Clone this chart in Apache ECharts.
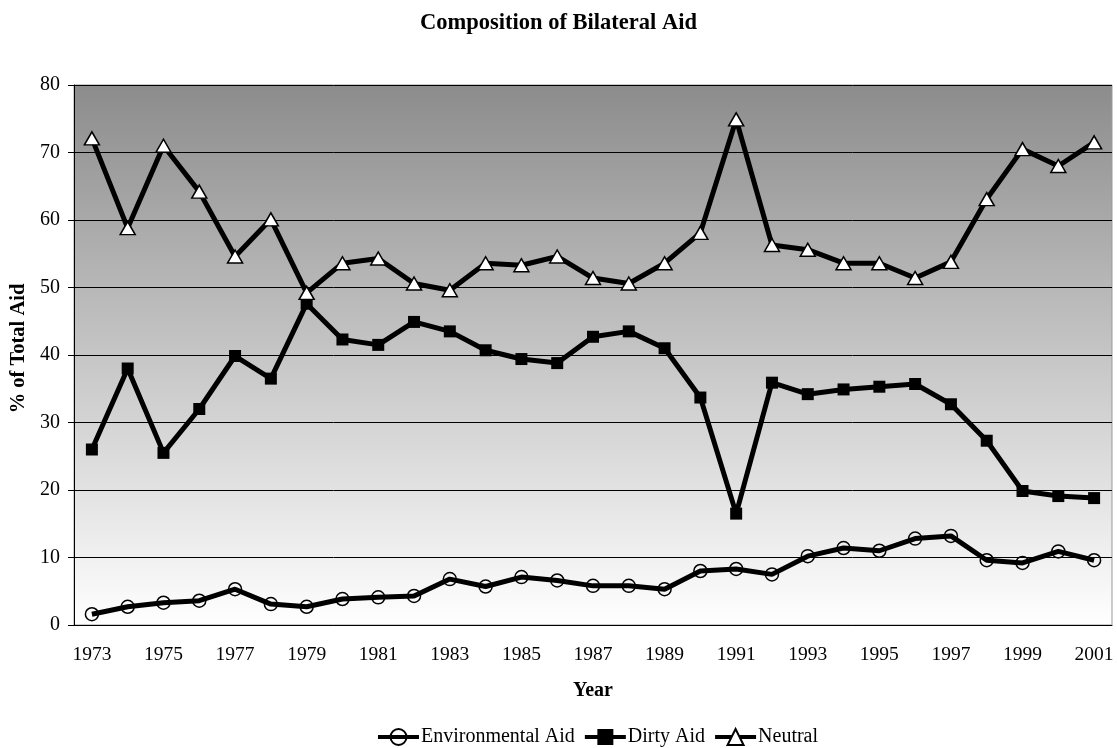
<!DOCTYPE html>
<html>
<head>
<meta charset="UTF-8">
<title>Composition of Bilateral Aid</title>
<script src="https://cdn.jsdelivr.net/npm/echarts@6/dist/echarts.min.js"></script>
<style>
html,body{margin:0;padding:0;background:#fff}
#main{width:1117px;height:748px}
</style>
</head>
<body>
<div id="main"></div>
<script>
// data
var years = ['1973','1974','1975','1976','1977','1978','1979','1980','1981','1982',
  '1983','1984','1985','1986','1987','1988','1989','1990','1991','1992',
  '1993','1994','1995','1996','1997','1998','1999','2000','2001'];
var envAid = [1.6,2.7,3.3,3.6,5.3,3.1,2.7,3.85,4.1,4.3,
  6.8,5.7,7.1,6.6,5.8,5.8,5.3,8.0,8.3,7.5,
  10.2,11.4,11.0,12.8,13.2,9.6,9.2,10.9,9.6];
var dirtyAid = [26.0,38.0,25.5,32.0,39.85,36.5,47.6,42.3,41.5,44.9,
  43.5,40.7,39.4,38.8,42.7,43.5,41.0,33.7,16.5,35.9,
  34.2,34.9,35.3,35.7,32.7,27.3,19.85,19.1,18.8];
var neutral = [72.1,58.8,71.0,64.2,54.6,60.1,49.2,53.6,54.3,50.6,
  49.6,53.6,53.3,54.6,51.4,50.6,53.6,58.1,74.9,56.3,
  55.6,53.6,53.6,51.4,53.8,63.1,70.5,68.0,71.5];

var font = 'Liberation Serif';
var chart = echarts.init(document.getElementById('main'));

chart.setOption({
  animation: false,
  title: {
    text: 'Composition of Bilateral Aid',
    left: 'center',
    top: 7,
    textStyle: {fontFamily: font, fontSize: 22.5, fontWeight: 'bold', color: '#000'}
  },
  legend: {
    left: 371,
    top: 722,
    itemWidth: 41,
    itemHeight: 20,
    itemGap: 8,
    textStyle: {fontFamily: font, fontSize: 20, color: '#000', padding: [0, 0, 0, -3]},
    lineStyle: {width: 4},
    data: ['Environmental Aid', 'Dirty Aid', 'Neutral']
  },
  grid: {
    left: 74, right: 5, top: 85, bottom: 123,
    show: true,
    borderColor: '#999',
    borderWidth: 1,
    backgroundColor: new echarts.graphic.LinearGradient(0, 0, 0, 1, [
      {offset: 0, color: '#8c8c8c'},
      {offset: 1, color: '#ffffff'}
    ])
  },
  xAxis: {
    type: 'category',
    data: years,
    boundaryGap: true,
    name: 'Year',
    nameLocation: 'middle',
    nameGap: 56,
    nameTextStyle: {fontFamily: font, fontSize: 20, fontWeight: 'bold', color: '#000'},
    axisLine: {lineStyle: {color: '#000', width: 1}},
    axisTick: {interval: 0, length: 6, lineStyle: {color: '#000'}},
    axisLabel: {interval: 1, margin: 20, fontFamily: font, fontSize: 19.5, color: '#000'}
  },
  yAxis: {
    type: 'value',
    min: 0, max: 80, interval: 10,
    name: '% of Total Aid',
    nameLocation: 'middle',
    nameGap: 43,
    nameTextStyle: {fontFamily: font, fontSize: 20.5, fontWeight: 'bold', color: '#000', padding: [0, 0, 0, 13]},
    axisLine: {show: true, lineStyle: {color: '#000', width: 1}},
    axisTick: {show: true, length: 6, lineStyle: {color: '#000'}},
    axisLabel: {margin: 14, fontFamily: font, fontSize: 20, color: '#000'},
    splitLine: {lineStyle: {color: '#000', width: 1}}
  },
  series: [
    {
      name: 'Environmental Aid',
      type: 'line',
      data: envAid,
      symbol: 'circle',
      symbolSize: 13,
      lineStyle: {color: '#000', width: 5},
      itemStyle: {color: 'rgba(0,0,0,0)', borderColor: '#000', borderWidth: 1.5}
    },
    {
      name: 'Dirty Aid',
      type: 'line',
      data: dirtyAid,
      symbol: 'rect',
      symbolSize: 12,
      lineStyle: {color: '#000', width: 5},
      itemStyle: {color: '#000', borderColor: '#000', borderWidth: 0}
    },
    {
      name: 'Neutral',
      type: 'line',
      data: neutral,
      symbol: 'triangle',
      symbolSize: [15, 13],
      lineStyle: {color: '#000', width: 5},
      itemStyle: {color: '#fff', borderColor: '#000', borderWidth: 1.5}
    }
  ]
});
</script>
</body>
</html>
